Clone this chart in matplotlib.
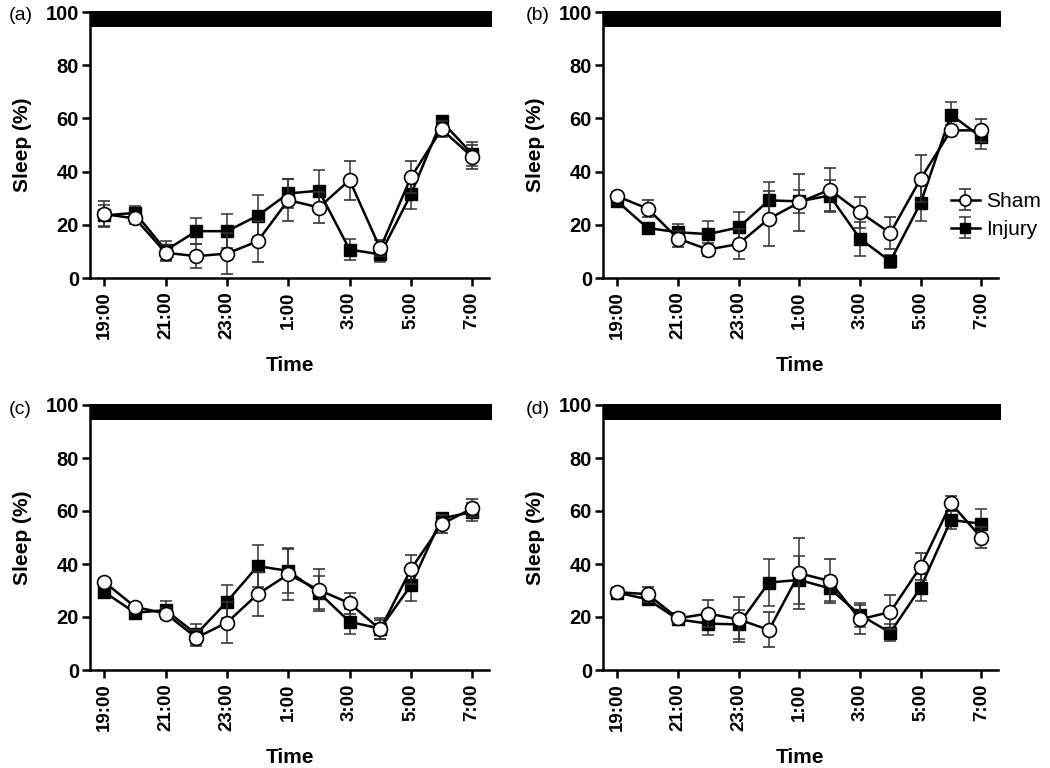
import matplotlib
matplotlib.use("Agg")
import matplotlib.pyplot as plt
from matplotlib.patches import Rectangle

plt.rcParams['font.family'] = ['Liberation Sans', 'DejaVu Sans']

hours = list(range(13))
tick_pos = [0, 2, 4, 6, 8, 10, 12]
tick_labels = ['19:00', '21:00', '23:00', '1:00', '3:00', '5:00', '7:00']

# panel (a)
sham_a = [24.0, 22.4, 9.5, 8.2, 9.2, 13.8, 29.3, 26.5, 36.8, 11.1, 37.8, 55.9, 45.6]
sham_a_err = [5.0, 2.0, 3.0, 4.4, 7.6, 7.8, 8.0, 6.0, 7.3, 3.0, 6.0, 3.0, 4.5]
inj_a = [23.5, 24.5, 10.4, 17.6, 17.6, 23.4, 31.8, 32.8, 10.7, 8.9, 31.4, 59.0, 46.6]
inj_a_err = [4.0, 2.5, 3.5, 5.0, 6.4, 7.8, 5.4, 7.8, 4.0, 3.0, 5.5, 2.0, 4.5]

# panel (b)
sham_b = [30.7, 26.1, 14.8, 10.7, 12.8, 22.3, 28.4, 33.2, 24.7, 16.9, 37.3, 55.5, 55.5]
sham_b_err = [1.5, 3.3, 3.0, 2.3, 5.7, 10.4, 10.7, 8.0, 5.8, 6.0, 8.8, 2.0, 4.4]
inj_b = [28.8, 18.8, 17.2, 16.5, 19.0, 29.2, 28.8, 31.0, 14.8, 6.3, 28.2, 61.4, 52.9]
inj_b_err = [1.5, 1.5, 3.0, 5.0, 5.8, 7.0, 4.2, 6.0, 6.4, 2.5, 6.6, 4.8, 4.3]

# panel (c)
sham_c = [33.2, 23.8, 21.3, 12.2, 17.9, 28.6, 36.1, 30.2, 25.2, 15.3, 38.0, 55.0, 61.0]
sham_c_err = [1.5, 1.5, 2.0, 3.0, 7.6, 8.4, 9.7, 7.8, 4.0, 3.5, 5.4, 3.4, 3.4]
inj_c = [29.4, 21.6, 22.6, 13.5, 25.8, 39.2, 37.4, 29.2, 18.2, 15.6, 31.9, 57.2, 59.6]
inj_c_err = [1.5, 1.5, 3.4, 3.7, 6.3, 7.9, 8.5, 6.3, 4.7, 4.0, 5.9, 2.0, 3.4]

# panel (d)
sham_d = [29.4, 28.6, 19.5, 21.3, 19.1, 15.1, 36.5, 33.6, 19.1, 21.9, 39.0, 62.9, 49.9]
sham_d_err = [1.5, 2.8, 2.0, 5.1, 8.6, 6.6, 13.4, 8.2, 5.4, 6.3, 5.0, 2.8, 4.0]
inj_d = [29.2, 26.7, 19.1, 17.5, 17.2, 33.0, 34.0, 30.8, 20.8, 14.1, 31.1, 56.6, 55.2]
inj_d_err = [1.5, 2.0, 2.0, 4.4, 5.6, 8.8, 9.0, 4.8, 4.6, 3.2, 5.1, 3.5, 5.7]

panels = [
    ('(a)', sham_a, sham_a_err, inj_a, inj_a_err),
    ('(b)', sham_b, sham_b_err, inj_b, inj_b_err),
    ('(c)', sham_c, sham_c_err, inj_c, inj_c_err),
    ('(d)', sham_d, sham_d_err, inj_d, inj_d_err),
]

W, H = 1050, 768
# axes boxes in pixels: left, top, right, bottom
boxes = [(90, 12, 489, 278), (603, 12, 998, 278), (90, 405, 489, 670), (603, 405, 998, 670)]
label_pos = [(9, 16), (526, 16), (9, 409), (526, 409)]

fig = plt.figure(figsize=(W / 100, H / 100), dpi=100)

for i, (name, sham, sham_err, inj, inj_err) in enumerate(panels):
    l, t, r, b = boxes[i]
    ax = fig.add_axes([l / W, 1 - b / H, (r - l) / W, (b - t) / H])

    ax.errorbar(hours, inj, yerr=inj_err, color='black', marker='s', markersize=8.5,
                linewidth=1.8, ecolor='#333333', elinewidth=1.1, capsize=4.5, capthick=1.1,
                label='Injury', zorder=3)
    ax.errorbar(hours, sham, yerr=sham_err, color='black', marker='o', markersize=10,
                markerfacecolor='white', markeredgewidth=1.2, linewidth=1.8,
                ecolor='#333333', elinewidth=1.1, capsize=4.5, capthick=1.1,
                label='Sham', zorder=4)

    ax.set_xlim(-0.47, 12.55)
    ax.set_ylim(0, 100)
    # black bar along the top (dark phase)
    ax.add_patch(Rectangle((0, 94.5), 1.008, 6.0, transform=ax.get_yaxis_transform(),
                           facecolor='black', edgecolor='none', clip_on=False, zorder=5))

    ax.spines['top'].set_visible(False)
    ax.spines['right'].set_visible(False)
    ax.spines['left'].set_linewidth(1.8)
    ax.spines['bottom'].set_linewidth(1.8)

    ax.set_yticks([0, 20, 40, 60, 80, 100])
    ax.set_xticks(tick_pos)
    ax.set_xticklabels(tick_labels, rotation=90)
    ax.tick_params(axis='both', width=1.8, length=6)
    ax.tick_params(axis='x', labelsize=13.5)
    ax.tick_params(axis='y', labelsize=14.5, pad=2)
    for lab in ax.get_xticklabels() + ax.get_yticklabels():
        lab.set_fontweight('bold')

    ax.set_xlabel('Time', fontsize=15, fontweight='bold', labelpad=12)
    ax.set_ylabel('Sleep (%)', fontsize=15, fontweight='bold', labelpad=10)

    fig.text(label_pos[i][0] / W, 1 - label_pos[i][1] / H, name, fontsize=14,
             va='center', ha='left')

    if name == '(b)':
        handles, labels = ax.get_legend_handles_labels()
        ax.legend(handles[::-1], labels[::-1], loc='center left',
                  bbox_to_anchor=(0.88, 0.235), frameon=False, fontsize=15,
                  handlelength=1.4, handletextpad=0.3, labelspacing=0.45,
                  markerscale=0.8, borderpad=0, borderaxespad=0)

fig.savefig('out.png', dpi=100)
